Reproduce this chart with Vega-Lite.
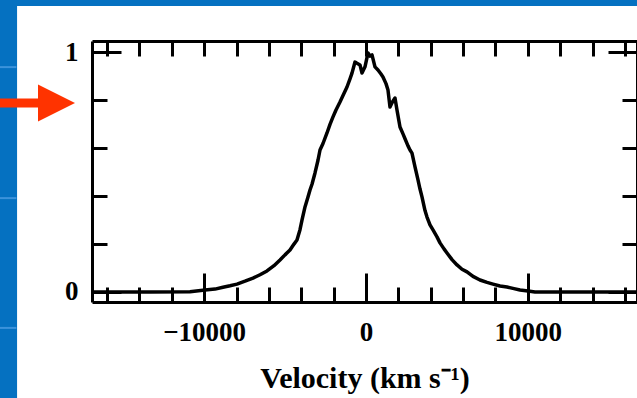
{
  "$schema": "https://vega.github.io/schema/vega-lite/v6.json",
  "width": 545,
  "height": 261,
  "autosize": {"type": "none"},
  "padding": {"left": 92, "top": 41, "right": 0, "bottom": 96},
  "background": "white",
  "config": {
    "view": {"stroke": null},
    "axis": {
      "labelFont": "Liberation Serif", "labelFontWeight": "bold", "labelFontSize": 27, "labelColor": "black",
      "tickColor": "black", "tickWidth": 3, "domainColor": "black", "domainWidth": 3, "grid": false,
      "titleFont": "Liberation Serif", "titleFontWeight": "bold", "titleFontSize": 30, "titleColor": "black"
    }
  },
  "resolve": {"axis": {"x": "independent", "y": "independent"}},
  "data": {"values": [{}]},
  "layer": [
    {
      "mark": {"type": "rect", "fill": "#0571C1"},
      "encoding": {
        "x": {"datum": -25000, "type": "quantitative", "scale": {"domain": [-16930, 16745], "zero": false, "nice": false}, "axis": null},
        "x2": {"datum": -21560},
        "y": {"datum": 2, "type": "quantitative", "scale": {"domain": [-0.0418, 1.048], "zero": false, "nice": false}, "axis": null},
        "y2": {"datum": -1}
      }
    },
    {
      "mark": {"type": "rect", "fill": "#0571C1"},
      "encoding": {
        "x": {"datum": -25000, "type": "quantitative", "scale": {"domain": [-16930, 16745], "zero": false, "nice": false}, "axis": null},
        "x2": {"datum": 30000},
        "y": {"datum": 2, "type": "quantitative", "scale": {"domain": [-0.0418, 1.048], "zero": false, "nice": false}, "axis": null},
        "y2": {"datum": 1.194}
      }
    },
    {
      "mark": {"type": "rule", "color": "#3C93DB", "strokeWidth": 2},
      "encoding": {
        "x": {"datum": -23500, "type": "quantitative", "scale": {"domain": [-16930, 16745], "zero": false, "nice": false}, "axis": null},
        "x2": {"datum": -21600},
        "y": {"datum": 0.939, "type": "quantitative", "scale": {"domain": [-0.0418, 1.048], "zero": false, "nice": false}, "axis": null}
      }
    },
    {
      "mark": {"type": "rule", "color": "#3C93DB", "strokeWidth": 2},
      "encoding": {
        "x": {"datum": -23500, "type": "quantitative", "scale": {"domain": [-16930, 16745], "zero": false, "nice": false}, "axis": null},
        "x2": {"datum": -21600},
        "y": {"datum": 0.392, "type": "quantitative", "scale": {"domain": [-0.0418, 1.048], "zero": false, "nice": false}, "axis": null}
      }
    },
    {
      "mark": {"type": "rule", "color": "#3C93DB", "strokeWidth": 2},
      "encoding": {
        "x": {"datum": -23500, "type": "quantitative", "scale": {"domain": [-16930, 16745], "zero": false, "nice": false}, "axis": null},
        "x2": {"datum": -21600},
        "y": {"datum": -0.150, "type": "quantitative", "scale": {"domain": [-0.0418, 1.048], "zero": false, "nice": false}, "axis": null}
      }
    },
    {
      "data": {"values": [
        {"v": -16930, "f": 0}, {"v": -13347, "f": 0}, {"v": -10875, "f": 0.001}, {"v": -9948, "f": 0.008},
        {"v": -9330, "f": 0.012}, {"v": -8836, "f": 0.02}, {"v": -8403, "f": 0.026}, {"v": -7971, "f": 0.033},
        {"v": -7477, "f": 0.045}, {"v": -6982, "f": 0.058}, {"v": -6550, "f": 0.072}, {"v": -6117, "f": 0.088},
        {"v": -5685, "f": 0.11}, {"v": -5314, "f": 0.134}, {"v": -5005, "f": 0.155}, {"v": -4696, "f": 0.175},
        {"v": -4449, "f": 0.2}, {"v": -4264, "f": 0.217}, {"v": -4078, "f": 0.26}, {"v": -3955, "f": 0.3},
        {"v": -3769, "f": 0.355}, {"v": -3584, "f": 0.397}, {"v": -3460, "f": 0.426}, {"v": -3337, "f": 0.45},
        {"v": -3151, "f": 0.497}, {"v": -2966, "f": 0.55}, {"v": -2842, "f": 0.593}, {"v": -2657, "f": 0.62},
        {"v": -2410, "f": 0.664}, {"v": -2224, "f": 0.7}, {"v": -2039, "f": 0.731}, {"v": -1854, "f": 0.76},
        {"v": -1607, "f": 0.793}, {"v": -1421, "f": 0.82}, {"v": -1174, "f": 0.856}, {"v": -989, "f": 0.89},
        {"v": -865, "f": 0.914}, {"v": -680, "f": 0.96}, {"v": -556, "f": 0.955}, {"v": -371, "f": 0.948},
        {"v": -247, "f": 0.914}, {"v": -62, "f": 0.94}, {"v": 124, "f": 0.998}, {"v": 247, "f": 0.985},
        {"v": 371, "f": 0.99}, {"v": 556, "f": 0.94}, {"v": 741, "f": 0.927}, {"v": 927, "f": 0.91},
        {"v": 1050, "f": 0.898}, {"v": 1236, "f": 0.87}, {"v": 1359, "f": 0.843}, {"v": 1483, "f": 0.772},
        {"v": 1607, "f": 0.79}, {"v": 1792, "f": 0.81}, {"v": 1915, "f": 0.76}, {"v": 2101, "f": 0.689},
        {"v": 2286, "f": 0.66}, {"v": 2410, "f": 0.64}, {"v": 2595, "f": 0.61}, {"v": 2719, "f": 0.593},
        {"v": 2842, "f": 0.58}, {"v": 3028, "f": 0.522}, {"v": 3213, "f": 0.468}, {"v": 3337, "f": 0.43},
        {"v": 3460, "f": 0.397}, {"v": 3646, "f": 0.34}, {"v": 3769, "f": 0.313}, {"v": 3955, "f": 0.28},
        {"v": 4140, "f": 0.259}, {"v": 4387, "f": 0.23}, {"v": 4572, "f": 0.205}, {"v": 4820, "f": 0.18},
        {"v": 5005, "f": 0.163}, {"v": 5314, "f": 0.135}, {"v": 5623, "f": 0.113}, {"v": 5932, "f": 0.095},
        {"v": 6241, "f": 0.084}, {"v": 6612, "f": 0.065}, {"v": 7044, "f": 0.05}, {"v": 7477, "f": 0.04},
        {"v": 7847, "f": 0.033}, {"v": 8280, "f": 0.025}, {"v": 8712, "f": 0.021}, {"v": 9145, "f": 0.014},
        {"v": 9516, "f": 0.008}, {"v": 10010, "f": 0.004}, {"v": 10443, "f": 0}, {"v": 11987, "f": 0},
        {"v": 16745, "f": 0}
      ]},
      "mark": {"type": "line", "color": "black", "strokeWidth": 3.5, "strokeJoin": "round"},
      "encoding": {
        "x": {"field": "v", "type": "quantitative", "scale": {"domain": [-16930, 16745], "zero": false, "nice": false},
          "axis": {"orient": "bottom", "values": [-10000, 0, 10000], "tickSize": -29, "format": "d", "labelPadding": 46,
            "title": "Velocity (km s⁻¹)", "titleBaseline": "alphabetic", "titleY": 85, "domain": true, "zindex": 1}},
        "y": {"field": "f", "type": "quantitative", "scale": {"domain": [-0.0418, 1.048], "zero": false, "nice": false},
          "axis": {"orient": "left", "values": [0, 1], "tickSize": -29, "format": "d", "labelPadding": 43, "title": null, "domain": true, "zindex": 1}}
      }
    },
    {
      "mark": {"type": "point", "opacity": 0},
      "encoding": {
        "x": {"datum": 0, "type": "quantitative", "scale": {"domain": [-16930, 16745], "zero": false, "nice": false},
          "axis": {"orient": "bottom", "values": [-16000, -14000, -12000, -8000, -6000, -4000, -2000, 2000, 4000, 6000, 8000, 12000, 14000, 16000],
            "tickSize": -15, "labels": false, "domain": false, "title": null, "zindex": 1}},
        "y": {"datum": 0, "type": "quantitative", "scale": {"domain": [-0.0418, 1.048], "zero": false, "nice": false},
          "axis": {"orient": "left", "values": [0.2, 0.4, 0.6, 0.8], "tickSize": -15, "labels": false, "domain": false, "title": null, "zindex": 1}}
      }
    },
    {
      "mark": {"type": "point", "opacity": 0},
      "encoding": {
        "x": {"datum": 0, "type": "quantitative", "scale": {"domain": [-16930, 16745], "zero": false, "nice": false},
          "axis": {"orient": "top", "values": [-16000, -14000, -12000, -10000, -8000, -6000, -4000, -2000, 0, 2000, 4000, 6000, 8000, 10000, 12000, 14000, 16000],
            "tickSize": -15, "labels": false, "domain": true, "title": null, "zindex": 1}},
        "y": {"datum": 0, "type": "quantitative", "scale": {"domain": [-0.0418, 1.048], "zero": false, "nice": false},
          "axis": {"orient": "right", "values": [0, 1], "tickSize": -29, "labels": false, "domain": true, "title": null, "zindex": 1}}
      }
    },
    {
      "mark": {"type": "point", "opacity": 0},
      "encoding": {
        "x": {"datum": 0, "type": "quantitative", "scale": {"domain": [-16930, 16745], "zero": false, "nice": false}, "axis": null},
        "y": {"datum": 0, "type": "quantitative", "scale": {"domain": [-0.0418, 1.048], "zero": false, "nice": false},
          "axis": {"orient": "right", "values": [0.2, 0.4, 0.6, 0.8], "tickSize": -15, "labels": false, "domain": false, "title": null, "zindex": 1}}
      }
    },
    {
      "mark": {"type": "rule", "color": "#FF3300", "strokeWidth": 9, "strokeCap": "butt"},
      "encoding": {
        "x": {"datum": -23000, "type": "quantitative", "scale": {"domain": [-16930, 16745], "zero": false, "nice": false}, "axis": null},
        "x2": {"datum": -20000},
        "y": {"datum": 0.789, "type": "quantitative", "scale": {"domain": [-0.0418, 1.048], "zero": false, "nice": false}, "axis": null}
      }
    },
    {
      "mark": {"type": "point", "shape": "M-1,-1L1,0L-1,1Z", "size": 1369, "filled": true, "color": "#FF3300", "opacity": 1, "strokeWidth": 0},
      "encoding": {
        "x": {"datum": -19124, "type": "quantitative", "scale": {"domain": [-16930, 16745], "zero": false, "nice": false}, "axis": null},
        "y": {"datum": 0.789, "type": "quantitative", "scale": {"domain": [-0.0418, 1.048], "zero": false, "nice": false}, "axis": null}
      }
    }
  ]
}
